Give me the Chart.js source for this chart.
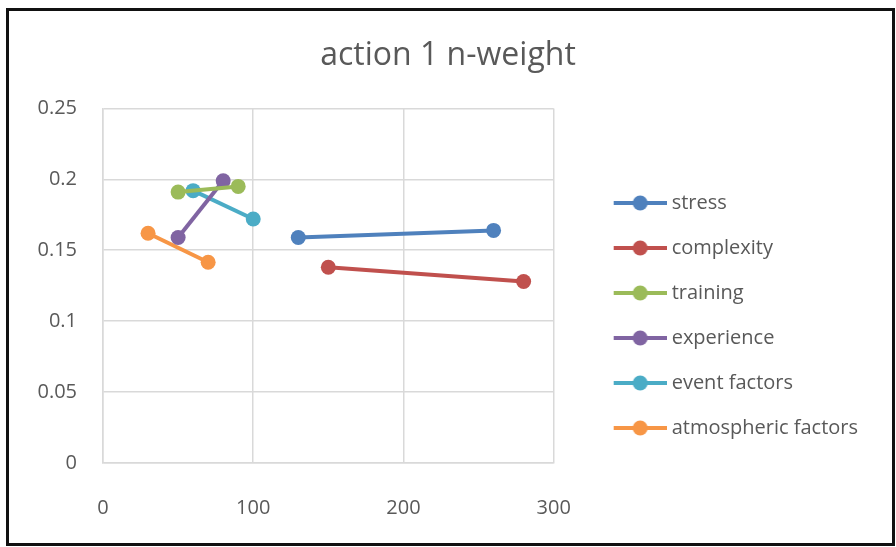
<!DOCTYPE html>
<html>
<head>
<meta charset="utf-8">
<script src="https://cdn.jsdelivr.net/npm/chart.js@4.4.1/dist/chart.umd.min.js"></script>
<style>
  html, body { margin: 0; padding: 0; background: #ffffff; }
  #wrap { position: relative; width: 896px; height: 547px; }
  #frame {
    position: absolute; left: 6px; top: 8px; width: 883px; height: 532px;
    border: 3px solid #111111; pointer-events: none; box-sizing: content-box;
  }
  canvas { position: absolute; left: 0; top: 0; }
</style>
</head>
<body>
<div id="wrap">
  <canvas id="chart" width="896" height="547"></canvas>
  <div id="frame"></div>
</div>
<script>
// Series: each factor has two (x, n-weight) points
const seriesNames = ['stress', 'complexity', 'training', 'experience', 'event factors', 'atmospheric factors'];
const seriesColors = ['#4f81bd', '#c0504d', '#9bbb59', '#8064a2', '#4bacc6', '#f79646'];

const stressX = [130, 260];
const stressY = [0.159, 0.164];
const complexityX = [150, 280];
const complexityY = [0.138, 0.128];
const trainingX = [50, 90];
const trainingY = [0.191, 0.195];
const experienceX = [50, 80];
const experienceY = [0.159, 0.199];
const eventX = [60, 100];
const eventY = [0.192, 0.172];
const atmosphericX = [30, 70];
const atmosphericY = [0.162, 0.1415];

const xTicks = [0, 100, 200, 300];
const yTicks = [0, 0.05, 0.1, 0.15, 0.2, 0.25];

const seriesX = [stressX, complexityX, trainingX, experienceX, eventX, atmosphericX];
const seriesY = [stressY, complexityY, trainingY, experienceY, eventY, atmosphericY];

const textColor = '#595959';
const gridColor = '#d9d9d9';
const fontFamily = "'Open Sans', 'Liberation Sans', sans-serif";

// Legend symbol box: blank lead-in, then a short line with a round marker.
// The image is 10px wider than the box so the line runs 5px past its right edge.
const symbolBox = 83;
function legendSymbol(color) {
  const c = document.createElement('canvas');
  c.width = symbolBox + 10; c.height = 18;
  const g = c.getContext('2d');
  const x1 = c.width - 53, x2 = c.width;
  g.strokeStyle = color;
  g.lineWidth = 4;
  g.beginPath(); g.moveTo(x1, 9); g.lineTo(x2, 9); g.stroke();
  g.fillStyle = color;
  g.beginPath(); g.arc((x1 + x2) / 2, 9, 7.5, 0, Math.PI * 2); g.fill();
  return c;
}

const datasets = seriesNames.map((name, i) => ({
  label: name,
  data: seriesX[i].map((x, j) => ({ x: x, y: seriesY[i][j] })),
  showLine: true,
  borderColor: seriesColors[i],
  backgroundColor: seriesColors[i],
  borderWidth: 4,
  pointRadius: 7.5,
  pointHoverRadius: 7.5,
  pointBorderWidth: 0,
  symbol: legendSymbol(seriesColors[i])
}));

const plainNumber = (v) => String(Number(v.toFixed(3)));

new Chart(document.getElementById('chart'), {
  type: 'scatter',
  data: { datasets: datasets },
  options: {
    responsive: false,
    animation: false,
    layout: { padding: { left: 28, right: 28, top: 0, bottom: 10 } },
    plugins: {
      tooltip: { enabled: false },
      title: {
        display: true,
        text: 'action 1 n-weight',
        color: textColor,
        font: { family: fontFamily, size: 32, weight: 'normal', lineHeight: 1.2 },
        padding: { top: 37, bottom: 33 }
      },
      legend: {
        position: 'right',
        align: 'end',
        fullSize: false,
        maxWidth: 360,
        labels: {
          color: textColor,
          font: { family: fontFamily, size: 20 },
          usePointStyle: true,
          pointStyleWidth: symbolBox,
          padding: 25,
          generateLabels: (chart) => chart.data.datasets.map((ds, i) => ({
            text: ds.label,
            fillStyle: ds.backgroundColor,
            strokeStyle: ds.borderColor,
            fontColor: textColor,
            pointStyle: ds.symbol,
            lineWidth: 0,
            hidden: false,
            datasetIndex: i
          }))
        }
      }
    },
    scales: {
      x: {
        type: 'linear',
        min: 0, max: 300,
        afterBuildTicks: (s) => { s.ticks = xTicks.map(v => ({ value: v })); },
        afterFit: (s) => { s.height = 74; },
        grid: { color: gridColor, lineWidth: 1.5, drawTicks: false },
        border: { color: gridColor, width: 1.5 },
        ticks: { color: textColor, font: { family: fontFamily, size: 20 }, padding: 33, callback: plainNumber }
      },
      y: {
        type: 'linear',
        min: 0, max: 0.25,
        afterBuildTicks: (s) => { s.ticks = yTicks.map(v => ({ value: v })); },
        afterFit: (s) => { s.width = 75; },
        grid: { color: gridColor, lineWidth: 1.5, drawTicks: false },
        border: { color: gridColor, width: 1.5 },
        ticks: { color: textColor, font: { family: fontFamily, size: 20 }, padding: 26, callback: plainNumber }
      }
    }
  }
});
</script>
</body>
</html>
